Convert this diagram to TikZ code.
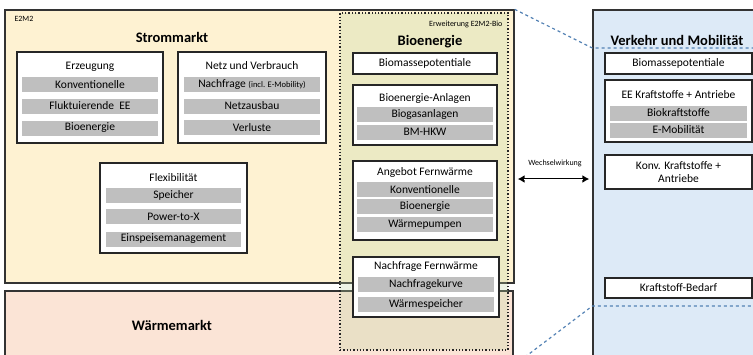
\documentclass[tikz,border=0pt]{standalone}
\usepackage{fontspec}
\setmainfont{Carlito}
\usetikzlibrary{arrows.meta}
\definecolor{stromgelb}{RGB}{254,242,210}
\definecolor{waermerosa}{RGB}{251,228,214}
\definecolor{verkehrblau}{RGB}{221,234,247}
\definecolor{bioolive}{RGB}{190,215,160}
\definecolor{balkengrau}{RGB}{191,191,191}
\definecolor{strichblau}{RGB}{84,130,180}
\tikzset{
  panel/.style={draw=black!80, line width=1.3pt, inner sep=0pt},
  kasten/.style={draw=black!85, line width=1.3pt, fill=white, inner sep=0pt},
  balken/.style={fill=balkengrau, inner sep=0pt, minimum height=15pt},
  titel/.style={font=\bfseries\fontsize{14.5}{16}\selectfont},
  klein/.style={font=\fontsize{8}{9}\selectfont}
}
\begin{document}
\begin{tikzpicture}[x=1pt, y=-1pt, font=\fontsize{11.5}{13}\selectfont]
	\useasboundingbox (0,0) rectangle (753,354);
	\clip (0,0) rectangle (753,354);
	\node[panel, fill=stromgelb, minimum width=509pt, minimum height=273pt] (strom) at (259.5,146.5) {};
	\node[panel, fill=waermerosa, minimum width=508pt, minimum height=80pt] (waerme) at (259,331) {};
	\node[panel, fill=verkehrblau, minimum width=180pt, minimum height=360pt] (verkehr) at (683,190) {};
	\node[draw=black!85, line width=1.3pt, dotted, fill=bioolive, fill opacity=0.28, inner sep=0pt, minimum width=168pt, minimum height=337pt] (bio) at (424,181.5) {};
	\draw[strichblau, line width=1.2pt, dashed] (strom.north east) -- (verkehr.west |- 0,48) -- (760,48);
	\draw[strichblau, line width=1.2pt, dashed] (525,357) -- (verkehr.west |- 0,306) -- (760,306);
	\node[klein, anchor=west] (e2m2) at (11,19) {E2M2};
	\node[titel] (stromTitel) at (172,37) {Strommarkt};
	\node[titel] (waermeTitel) at (172,325) {Wärmemarkt};
	\node[klein, anchor=east] (erw) at (506,24) {Erweiterung E2M2-Bio};
	\node[titel] (bioTitel) at (430,42) {Bioenergie};
	\node[titel] (verkehrTitel) at (677,40) {Verkehr und Mobilität};

	\node[kasten, minimum width=146pt, minimum height=91pt] (erz) at (90,97.5) {};
	\node (erzTitel) at (90,67) {Erzeugung};
	\node[balken, minimum width=136pt] (erzKonv) at (90,84.5) {Konventionelle};
	\node[balken, minimum width=136pt] (erzFluk) at (90,106) {Fluktuierende~ EE};
	\node[balken, minimum width=136pt] (erzBio) at (90,128) {Bioenergie};

	\node[kasten, minimum width=148pt, minimum height=91pt] (netz) at (252,97.5) {};
	\node (netzTitel) at (252,66) {Netz und Verbrauch};
	\node[balken, minimum width=136pt] (netzNach) at (252,84.5) {Nachfrage {\fontsize{8.5}{9}\selectfont(incl. E-Mobility)}};
	\node[balken, minimum width=136pt] (netzAus) at (252,106) {Netzausbau};
	\node[balken, minimum width=136pt] (netzVerl) at (252,127.5) {Verluste};

	\node[kasten, minimum width=147pt, minimum height=90pt] (flex) at (173.5,208) {};
	\node (flexTitel) at (173.5,178) {Flexibilität};
	\node[balken, minimum width=135pt] (flexSp) at (173.5,195.5) {Speicher};
	\node[balken, minimum width=135pt] (flexPtx) at (173.5,216.5) {Power-to-X};
	\node[balken, minimum width=135pt] (flexEin) at (173.5,239) {Einspeisemanagement};

	\node[kasten, minimum width=144pt, minimum height=21pt] (bioPot) at (425,63.5) {Biomassepotentiale};
	\node[kasten, minimum width=144pt, minimum height=60pt] (bioAnl) at (425,115) {};
	\node (bioAnlTitel) at (425,98) {Bioenergie-Anlagen};
	\node[balken, minimum width=136pt] (bioGas) at (425,114.5) {Biogasanlagen};
	\node[balken, minimum width=136pt] (bioHkw) at (425,132) {BM-HKW};

	\node[kasten, minimum width=144pt, minimum height=79pt] (fwAng) at (425,200.5) {};
	\node (fwAngTitel) at (425,172) {Angebot Fernwärme};
	\node[balken, minimum width=136pt] (fwKonv) at (425,189.5) {Konventionelle};
	\node[balken, minimum width=136pt] (fwBio) at (425,206.5) {Bioenergie};
	\node[balken, minimum width=136pt] (fwWp) at (425,224.5) {Wärmepumpen};

	\node[kasten, minimum width=146pt, minimum height=60pt] (fwNach) at (426,287) {};
	\node (fwNachTitel) at (426,266) {Nachfrage Fernwärme};
	\node[balken, minimum width=136pt] (fwKurve) at (426,284.5) {Nachfragekurve};
	\node[balken, minimum width=136pt] (fwSp) at (426,304) {Wärmespeicher};

	\node[kasten, minimum width=147pt, minimum height=21pt] (vkPot) at (678.5,63.5) {Biomassepotentiale};
	\node[kasten, minimum width=147pt, minimum height=62pt] (vkEE) at (678.5,111) {};
	\node (vkEETitel) at (678.5,95) {EE Kraftstoffe + Antriebe};
	\node[balken, minimum width=137pt] (vkBio) at (678.5,113) {Biokraftstoffe};
	\node[balken, minimum width=137pt] (vkEmob) at (678.5,130) {E-Mobilität};
	\node[kasten, minimum width=147pt, minimum height=34pt, align=center] (vkKonv) at (678.5,172) {Konv. Kraftstoffe +\\Antriebe};
	\node[kasten, minimum width=147pt, minimum height=20pt] (vkBedarf) at (678.5,288) {Kraftstoff-Bedarf};

	\node[klein] (ww) at (555,163) {Wechselwirkung};
	\draw[{Latex[length=7pt,width=8pt]}-{Latex[length=7pt,width=8pt]}, line width=2.4pt, shorten <=9pt, shorten >=3pt] (bio.east |- 0,179) -- (verkehr.west |- 0,179);
	\draw[white, line width=0.9pt, shorten <=15pt, shorten >=9pt] (bio.east |- 0,179) -- (verkehr.west |- 0,179);
\end{tikzpicture}
\end{document}
